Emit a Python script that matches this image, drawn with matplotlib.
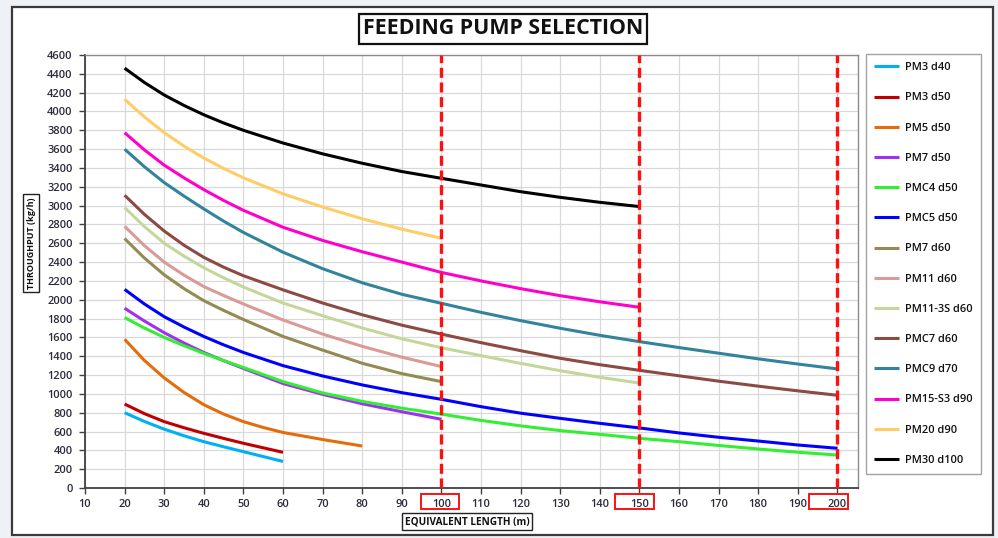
import matplotlib
matplotlib.use("Agg")
import matplotlib.pyplot as plt
from matplotlib.patches import Rectangle
import matplotlib.transforms as mtransforms

plt.rcParams['font.family'] = ['Open Sans', 'DejaVu Sans']

# ---------------- data ----------------
series_names = ["PM3 d40", "PM3 d50", "PM5 d50", "PM7 d50", "PMC4 d50", "PMC5 d50",
                "PM7 d60", "PM11 d60", "PM11-3S d60", "PMC7 d60", "PMC9 d70",
                "PM15-S3 d90", "PM20 d90", "PM30 d100"]
series_colors = ["#00B0F0", "#C00000", "#E46C0A", "#A030F0", "#33EE33", "#0000FF",
                 "#948A54", "#DA9A96", "#C4D79B", "#8B4A44", "#31849B",
                 "#FF00CC", "#FFCC66", "#000000"]

# equivalent length (m) at which each curve was read
x_to60 = [20, 25, 30, 35, 40, 45, 50, 60]
x_to80 = [20, 25, 30, 35, 40, 45, 50, 55, 60, 70, 80]
x_to100 = [20, 25, 30, 35, 40, 45, 50, 60, 70, 80, 90, 100]
x_to150 = [20, 25, 30, 35, 40, 45, 50, 60, 70, 80, 90, 100, 110, 120, 130, 140, 150]
x_to200 = [20, 25, 30, 35, 40, 45, 50, 60, 70, 80, 90, 100, 110, 120, 130, 140, 150,
           160, 170, 180, 190, 200]

# throughput (kg/h)
pm3_d40 = [800, 707, 625, 555, 492, 438, 386, 282]
pm3_d50 = [892, 790, 705, 640, 581, 527, 475, 379]
pm5_d50 = [1580, 1355, 1170, 1015, 885, 785, 705, 643, 590, 515, 446]
pm7_d50 = [1910, 1774, 1650, 1540, 1440, 1353, 1270, 1110, 995, 895, 810, 730]
pmc4_d50 = [1810, 1700, 1600, 1512, 1430, 1354, 1280, 1130, 1010, 920, 848, 785,
            718, 660, 610, 570, 528, 492, 452, 414, 380, 350]
pmc5_d50 = [2110, 1955, 1820, 1710, 1610, 1521, 1440, 1300, 1190, 1095, 1013, 942,
            864, 795, 740, 687, 638, 585, 539, 499, 457, 422]
pm7_d60 = [2650, 2443, 2265, 2118, 1990, 1887, 1790, 1610, 1465, 1325, 1215, 1130]
pm11_d60 = [2780, 2575, 2400, 2261, 2140, 2045, 1955, 1785, 1635, 1505, 1390, 1290]
pm11_3s_d60 = [2980, 2777, 2600, 2463, 2340, 2233, 2135, 1965, 1830, 1700, 1585,
               1490, 1406, 1324, 1246, 1176, 1115]
pmc7_d60 = [3110, 2907, 2730, 2579, 2450, 2346, 2255, 2105, 1965, 1840, 1730, 1635,
            1544, 1459, 1378, 1310, 1250, 1192, 1135, 1082, 1032, 985]
pmc9_d70 = [3600, 3413, 3245, 3101, 2965, 2835, 2715, 2505, 2330, 2180, 2058, 1962,
            1866, 1778, 1697, 1622, 1555, 1492, 1432, 1372, 1317, 1265]
pm15_s3_d90 = [3775, 3592, 3430, 3295, 3170, 3055, 2950, 2770, 2630, 2510, 2400,
               2290, 2200, 2118, 2043, 1978, 1920]
pm20_d90 = [4130, 3942, 3775, 3632, 3505, 3395, 3295, 3125, 2985, 2860, 2750, 2653]
pm30_d100 = [4460, 4308, 4175, 4064, 3965, 3878, 3800, 3665, 3550, 3450, 3362, 3290,
             3219, 3148, 3088, 3035, 2990]

series_x = [x_to60, x_to60, x_to80, x_to100, x_to200, x_to200, x_to100, x_to100,
            x_to150, x_to200, x_to200, x_to150, x_to100, x_to150]
series_y = [pm3_d40, pm3_d50, pm5_d50, pm7_d50, pmc4_d50, pmc5_d50, pm7_d60,
            pm11_d60, pm11_3s_d60, pmc7_d60, pmc9_d70, pm15_s3_d90, pm20_d90,
            pm30_d100]

x_ticks = list(range(10, 201, 10))
y_ticks = list(range(0, 4601, 200))
limit_lengths = [100, 150, 200]

title = "FEEDING PUMP SELECTION"
x_label = "EQUIVALENT LENGTH (m)"
y_label = "THROUGHPUT (kg/h)"

# ---------------- figure ----------------
W, H = 998, 538
fig = plt.figure(figsize=(W / 100, H / 100), dpi=100)
fig.patch.set_facecolor("#EEF1F5")

# white chart area with dark frame
frame = Rectangle((12 / W, 1 - 535 / H), (993 - 12) / W, (535 - 7) / H,
                  transform=fig.transFigure, facecolor="white",
                  edgecolor="#3a3a3a", linewidth=1.6, zorder=-5)
fig.patches.append(frame)

ax = fig.add_axes([85 / W, 1 - 488 / H, (858 - 85) / W, (488 - 55) / H])
ax.set_zorder(2)
ax.set_facecolor("white")
ax.set_xlim(10, 205.2)
ax.set_ylim(0, 4600)
ax.set_xticks(x_ticks)
ax.set_yticks(y_ticks)
ax.grid(True, color="#D9D9D9", linewidth=0.9, zorder=0)
ax.set_axisbelow(True)
for side in ["left", "bottom"]:
    ax.spines[side].set_color("#404040")
    ax.spines[side].set_linewidth(1.3)
for side in ["top", "right"]:
    ax.spines[side].set_color("#8c8c8c")
    ax.spines[side].set_linewidth(1.0)
ax.tick_params(axis="both", labelsize=7.9, colors="#404040", labelcolor="#2a2a3a",
               length=4, width=1.0)
ax.tick_params(axis="x", pad=4)
ax.tick_params(axis="y", pad=5)
for lbl in ax.get_xticklabels() + ax.get_yticklabels():
    lbl.set_fontweight("semibold")

lines = []
for nm, col, xs, ys in zip(series_names, series_colors, series_x, series_y):
    ln, = ax.plot(xs, ys, color=col, linewidth=2.2, label=nm,
                  solid_capstyle="butt", solid_joinstyle="round", zorder=3)
    lines.append(ln)

for xv in limit_lengths:
    ax.axvline(xv, color="#FF1010", linewidth=2.4, linestyle=(0, (3.0, 1.4)),
               zorder=4)

# red boxes around the highlighted tick labels
trans = mtransforms.blended_transform_factory(ax.transData, ax.transAxes)
for xc in [99.6, 148.8, 197.7]:
    r = Rectangle((xc - 4.85, -0.0485), 9.7, 0.0346, transform=trans,
                  fill=False, edgecolor="#FF1010", linewidth=1.4,
                  clip_on=False, zorder=5)
    ax.add_patch(r)

# title
fig.text(503 / W, 1 - 29 / H, title, ha="center", va="center", fontsize=15.4,
         fontweight="bold", color="#111111",
         bbox=dict(boxstyle="square,pad=0.2", facecolor="white",
                   edgecolor="#111111", linewidth=1.6))

# axis labels
fig.text(31 / W, 1 - 243 / H, y_label, ha="center", va="center", rotation=90,
         fontsize=6.5, fontweight="bold", color="#111111",
         bbox=dict(boxstyle="square,pad=0.4", facecolor="white",
                   edgecolor="#222222", linewidth=1.0))
fig.text(467 / W, 1 - 521.5 / H, x_label, ha="center", va="center",
         fontsize=7.2, fontweight="bold", color="#111111",
         bbox=dict(boxstyle="square,pad=0.3", facecolor="white",
                   edgecolor="#222222", linewidth=1.0))

# legend
leg = fig.legend(handles=lines, labels=series_names, loc="upper left",
                 bbox_to_anchor=(866 / W, 1 - 54 / H), fontsize=7.9,
                 frameon=True, fancybox=False, edgecolor="#8c8c8c",
                 handlelength=2.3, handletextpad=0.5, labelspacing=1.75,
                 borderpad=0.75, borderaxespad=0.0)
leg.get_frame().set_linewidth(1.0)
for t in leg.get_texts():
    t.set_fontweight("semibold")
    t.set_color("#111111")

fig.savefig("out.png", dpi=100, facecolor=fig.get_facecolor())
